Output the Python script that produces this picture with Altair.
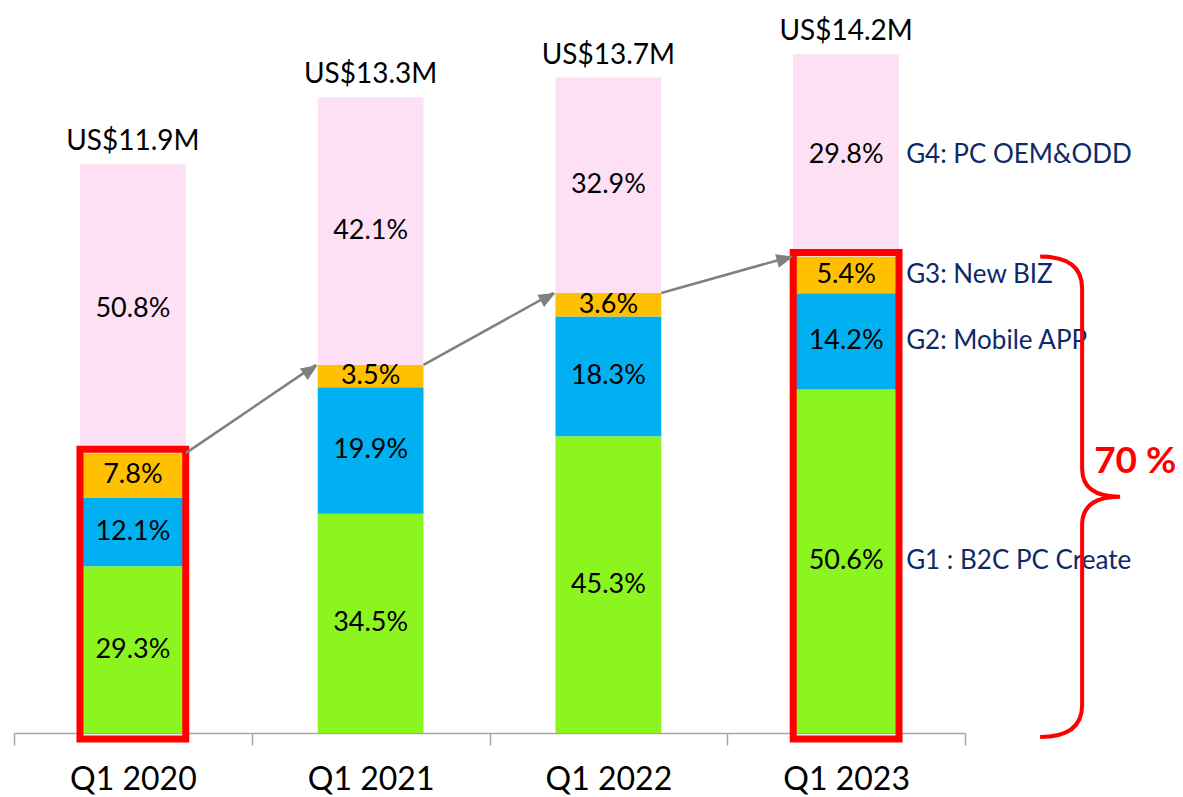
import math
import altair as alt
import pandas as pd

# ---------------- data ----------------
categories = ["Q1 2020", "Q1 2021", "Q1 2022", "Q1 2023"]
totals = [11.9, 13.3, 13.7, 14.2]            # US$ M
g1_pct = [29.3, 34.5, 45.3, 50.6]            # G1 : B2C PC Create
g2_pct = [12.1, 19.9, 18.3, 14.2]            # G2: Mobile APP
g3_pct = [7.8, 3.5, 3.6, 5.4]                # G3: New BIZ
g4_pct = [50.8, 42.1, 32.9, 29.8]            # G4: PC OEM&ODD
group_names = ["G1 : B2C PC Create", "G2: Mobile APP", "G3: New BIZ", "G4: PC OEM&ODD"]
group_colors = ["#8CF51F", "#00B0F0", "#FFC000", "#FEE0F4"]
highlight_cats = ["Q1 2020", "Q1 2023"]
share_text = "70 %"

# ---------------- layout ----------------
W, H = 951, 717
YMAX = 15.0
px_per = H / YMAX
band_frac = 0.445
step = W / len(categories)
bw = step * band_frac
FONT = "Lato"
NAVY = "#0E2A66"
GRAY = "#808080"

pcts = [g1_pct, g2_pct, g3_pct, g4_pct]
rows = []
for i, c in enumerate(categories):
    cum = 0.0
    for k, g in enumerate(group_names):
        v = totals[i] * pcts[k][i] / 100.0
        rows.append(dict(cat=c, group=g, order=k, pct=f"{pcts[k][i]:.1f}%",
                         y0=cum, y1=cum + v, mid=cum + v / 2))
        cum += v
df = pd.DataFrame(rows)

top3 = {c: totals[i] * (g1_pct[i] + g2_pct[i] + g3_pct[i]) / 100.0
        for i, c in enumerate(categories)}

tot_df = pd.DataFrame(dict(cat=categories, total=totals,
                           label=[f"US${t:.1f}M" for t in totals]))
box_df = pd.DataFrame(dict(cat=highlight_cats, top=[top3[c] for c in highlight_cats],
                           base=[0.0] * len(highlight_cats)))

arr_rows = []
for i in range(len(categories) - 1):
    a, b = categories[i], categories[i + 1]
    dy = (top3[b] - top3[a]) * px_per
    dx = step - bw
    ang = 90 - math.degrees(math.atan2(dy, dx))
    arr_rows.append(dict(cat=a, cat_to=b, yf=top3[a], yt=top3[b], ang=ang))
arr_df = pd.DataFrame(arr_rows)
head_df = pd.DataFrame(dict(cat=arr_df["cat_to"], yt=arr_df["yt"], ang=arr_df["ang"]))

last = categories[-1]
grp_df = df[df["cat"] == last]
brace_h = top3[last] * px_per + 4
brace_df = pd.DataFrame(dict(cat=[last], ym=[top3[last] / 2], txt=[share_text]))

xscale = alt.Scale(domain=categories, paddingInner=0, paddingOuter=0)
yscale = alt.Scale(domain=[0, YMAX], nice=False, zero=True)


def X(field="cat"):
    return alt.X(f"{field}:N", scale=xscale, sort=categories, title="",
                 axis=alt.Axis(labelAngle=0, tickBand="extent", title=""))


def Y(field):
    return alt.Y(f"{field}:Q", scale=yscale, axis=None)


bars = alt.Chart(df).mark_bar(strokeWidth=0, width=alt.RelativeBandSize(band_frac)).encode(
    x=X(), y=Y("y1"), y2="y0",
    color=alt.Color("group:N", scale=alt.Scale(domain=group_names, range=group_colors),
                    legend=None),
)

boxes = alt.Chart(box_df).mark_bar(fill="transparent", stroke="#FF0000", strokeWidth=7,
                                   width=alt.RelativeBandSize(band_frac),
                                   yOffset=-4, y2Offset=6).encode(
    x=X(), y=Y("top"), y2="base",
)

arrows = alt.Chart(arr_df).mark_rule(color=GRAY, strokeWidth=2.5,
                                     xOffset=bw / 2, x2Offset=-bw / 2 - 2).encode(
    x=X(), x2="cat_to:N", y=Y("yf"), y2="yt",
)

heads = alt.Chart(head_df).mark_point(shape="M0,0 L-0.5,1.2 L0.5,1.2 Z", filled=True,
                                      size=784, color=GRAY, opacity=1,
                                      xOffset=-bw / 2).encode(
    x=X(), y=Y("yt"),
    angle=alt.Angle("ang:Q", scale=alt.Scale(domain=[0, 360], range=[0, 360])),
)

pct_text = alt.Chart(df).mark_text(font=FONT, fontSize=27, color="black",
                                   baseline="middle").encode(
    x=X(), y=Y("mid"), text="pct:N",
)

tot_text = alt.Chart(tot_df).mark_text(font=FONT, fontSize=28, color="black",
                                       baseline="alphabetic", dy=-14).encode(
    x=X(), y=Y("total"), text="label:N",
)

grp_text = alt.Chart(grp_df).mark_text(font=FONT, fontSize=26, color=NAVY, align="left",
                                       baseline="middle", xOffset=60).encode(
    x=X(), y=Y("mid"), text="group:N",
)

u = brace_h / 2
a = 42 / u
r = 32 / u
r2 = 28 / u
t = 38 / u
brace_path = (f"M{-a:.4f},-1 Q0,-1 0,{-1 + r:.4f} L0,{-r2:.4f} Q0,0 {t:.4f},0 "
              f"Q0,0 0,{r2:.4f} L0,{1 - r:.4f} Q0,1 {-a:.4f},1")

brace = alt.Chart(brace_df).mark_point(shape=brace_path, filled=False, stroke="#FF0000",
                                       strokeWidth=4, size=brace_h ** 2, opacity=1,
                                       xOffset=236, yOffset=2).encode(
    x=X(), y=Y("ym"),
)

share = alt.Chart(brace_df).mark_text(font=FONT, fontSize=37, fontWeight="bold",
                                      color="#FF0000", align="left", baseline="middle",
                                      xOffset=248, dy=-33).encode(
    x=X(), y=Y("ym"), text="txt:N",
)

chart = alt.layer(bars, boxes, arrows, heads, pct_text, tot_text, grp_text, brace, share).properties(
    width=W, height=H,
    autosize=alt.AutoSizeParams(type="none"),
    padding={"left": 14, "top": 16, "right": 218, "bottom": 64},
).configure_view(stroke=None).configure_axisX(
    domainColor="#A6A6A6", domainWidth=1.5, tickColor="#A6A6A6", tickWidth=1.5,
    tickSize=12, labelFont=FONT, labelFontSize=32, labelColor="black",
    labelPadding=19, grid=False,
)

chart.save("out.html", embed_options={"renderer": "svg", "actions": False})
